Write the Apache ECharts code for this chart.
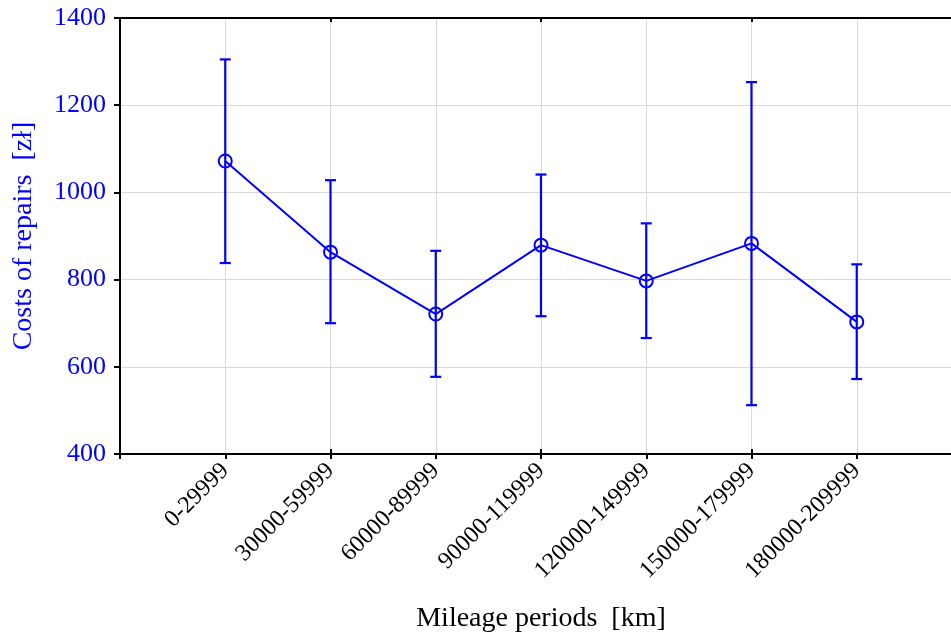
<!DOCTYPE html>
<html>
<head>
<meta charset="utf-8">
<script src="https://cdn.jsdelivr.net/npm/echarts@6/dist/echarts.min.js"></script>
<style>
  html, body { margin: 0; padding: 0; background: #fff; }
  #chart { width: 951px; height: 634px; }
</style>
</head>
<body>
<div id="chart"></div>
<script>
// mileage periods and repair cost stats
var categories = ['0-29999', '30000-59999', '60000-89999', '90000-119999',
  '120000-149999', '150000-179999', '180000-209999'];
var means = [1072, 863, 721, 879, 797, 883, 703];
var lowers = [838, 700, 577, 716, 666, 512, 572];
var uppers = [1305, 1028, 866, 1041, 929, 1253, 835];
var yTicks = [400, 600, 800, 1000, 1200, 1400];

var blue = '#0000ff';
var serif = 'Liberation Serif';

// empty slot each side, like the original plot (right one runs off the page)
var axisCats = [''].concat(categories, ['']);

var lineData = categories.map(function (c, i) { return [c, means[i]]; });
var barData = categories.map(function (c, i) { return [c, lowers[i], uppers[i]]; });

var chart = echarts.init(document.getElementById('chart'));

var tickStyle = { color: '#000', width: 2 };

chart.setOption({
  animation: false,
  grid: { left: 120, top: 18, width: 842, height: 436, containLabel: false, outerBoundsMode: 'none' },
  xAxis: [
    {
      type: 'category',
      data: axisCats,
      boundaryGap: false,
      position: 'bottom',
      name: 'Mileage periods  [km]',
      nameLocation: 'middle',
      nameGap: 151,
      nameTextStyle: { fontFamily: serif, fontSize: 28, color: '#000' },
      axisLine: { lineStyle: { color: '#000', width: 2 } },
      axisTick: { inside: false, length: 5, lineStyle: tickStyle },
      axisLabel: { interval: 0, rotate: 45, margin: 13, fontFamily: serif, fontSize: 24, color: '#000' },
      splitLine: { show: true, lineStyle: { color: '#d9d9d9', width: 1 } }
    },
    {
      // inner half of the bottom ticks
      type: 'category',
      data: axisCats,
      boundaryGap: false,
      position: 'bottom',
      axisLine: { show: false },
      axisTick: { inside: true, length: 5, lineStyle: tickStyle },
      axisLabel: { show: false },
      splitLine: { show: false }
    },
    {
      type: 'category',
      data: axisCats,
      boundaryGap: false,
      position: 'top',
      axisLine: { lineStyle: { color: '#000', width: 2 } },
      axisTick: { inside: true, length: 4, lineStyle: tickStyle },
      axisLabel: { show: false },
      splitLine: { show: false }
    }
  ],
  yAxis: {
    type: 'value',
    min: yTicks[0],
    max: yTicks[yTicks.length - 1],
    interval: 200,
    name: 'Costs of repairs  [zł]',
    nameLocation: 'middle',
    nameGap: 82,
    nameTextStyle: { fontFamily: serif, fontSize: 28, color: blue },
    axisLine: { show: true, lineStyle: { color: '#000', width: 2 } },
    axisTick: { show: true, length: 6, lineStyle: tickStyle },
    axisLabel: {
      margin: 14, fontFamily: serif, fontSize: 26, color: blue,
      formatter: function (v) { return String(v); }
    },
    splitLine: { show: true, lineStyle: { color: '#d9d9d9', width: 1 } }
  },
  series: [
    {
      type: 'custom',
      name: 'range',
      data: barData,
      z: 3,
      renderItem: function (params, api) {
        var x = api.value(0);
        var lo = api.coord([x, api.value(1)]);
        var hi = api.coord([x, api.value(2)]);
        var w = 5.5;
        var st = { stroke: blue, lineWidth: 2.2, fill: null };
        return {
          type: 'group',
          children: [
            { type: 'line', shape: { x1: lo[0], y1: lo[1], x2: hi[0], y2: hi[1] }, style: st },
            { type: 'line', shape: { x1: hi[0] - w, y1: hi[1], x2: hi[0] + w, y2: hi[1] }, style: st },
            { type: 'line', shape: { x1: lo[0] - w, y1: lo[1], x2: lo[0] + w, y2: lo[1] }, style: st }
          ]
        };
      }
    },
    {
      type: 'line',
      name: 'mean',
      data: lineData,
      z: 4,
      symbol: 'circle',
      symbolSize: 13,
      itemStyle: { color: 'rgba(0,0,0,0)', borderColor: blue, borderWidth: 2 },
      lineStyle: { color: blue, width: 2 }
    }
  ]
});
</script>
</body>
</html>
